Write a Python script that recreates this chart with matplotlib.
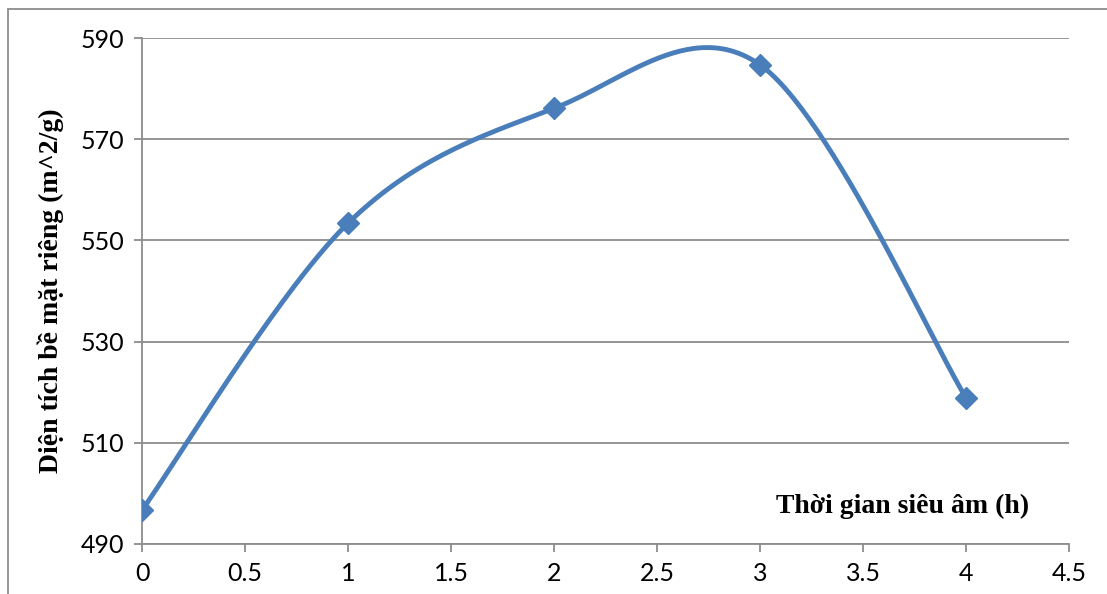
import numpy as np
import matplotlib.pyplot as plt
from matplotlib.patches import Rectangle

hours = [0, 1, 2, 3, 4]
surface_area = [496.7, 553.4, 576.1, 584.7, 518.9]

x_ticks = [0, 0.5, 1, 1.5, 2, 2.5, 3, 3.5, 4, 4.5]
x_labels = ['0', '0.5', '1', '1.5', '2', '2.5', '3', '3.5', '4', '4.5']
y_ticks = [490, 510, 530, 550, 570, 590]


def excel_smooth(xs, ys, n=60):
    # Excel-style smoothed line: cubic Bezier, control points at 1/6 of the neighbour chord
    pts = np.column_stack([xs, ys]).astype(float)
    out = []
    for i in range(len(pts) - 1):
        p0 = pts[i - 1] if i > 0 else pts[i]
        p1 = pts[i]
        p2 = pts[i + 1]
        p3 = pts[i + 2] if i + 2 < len(pts) else pts[i + 1]
        c1 = p1 + (p2 - p0) / 6
        c2 = p2 - (p3 - p1) / 6
        t = np.linspace(0, 1, n)[:, None]
        seg = ((1 - t) ** 3) * p1 + 3 * ((1 - t) ** 2) * t * c1 + 3 * (1 - t) * t ** 2 * c2 + t ** 3 * p2
        out.append(seg if i == 0 else seg[1:])
    curve = np.vstack(out)
    return curve[:, 0], curve[:, 1]


fig = plt.figure(figsize=(11.07, 5.94), dpi=100)
ax = fig.add_axes([0.1283, 0.0842, 0.8374, 0.8518])

sx, sy = excel_smooth(hours, surface_area)
ax.plot(sx, sy, color='#4a7ebb', lw=3.5, solid_capstyle='round', zorder=3)
ax.plot(hours, surface_area, ls='none', marker='D', ms=11, color='#4a7ebb', zorder=4)

ax.set_xlim(0, 4.5)
ax.set_ylim(490, 590)
ax.set_xticks(x_ticks)
ax.set_xticklabels(x_labels)
ax.set_yticks(y_ticks)
ax.grid(axis='y', color='#8c8c8c', lw=1.3)
ax.set_axisbelow(True)

for s in ['top', 'right']:
    ax.spines[s].set_visible(False)
for s in ['left', 'bottom']:
    ax.spines[s].set_color('#8c8c8c')
    ax.spines[s].set_linewidth(1.3)

ax.tick_params(axis='both', direction='out', length=6, width=1.3, color='#8c8c8c',
               labelsize=18, pad=7)
for lab in ax.get_xticklabels() + ax.get_yticklabels():
    lab.set_fontfamily('Lato')

ax.set_ylabel('Diện tích bề mặt riêng (m^2/g)', fontfamily='Liberation Serif',
              fontweight='bold', fontsize=20, labelpad=12)
ax.text(3.69, 497.5, 'Thời gian siêu âm (h)',
        fontfamily='Liberation Serif', fontweight='bold', fontsize=20,
        ha='center', va='center')

# outer chart frame, cropped at right and bottom
fig.patches.append(Rectangle((8 / 1107, -0.1), 1.2, 1 - 9 / 594 + 0.1,
                             transform=fig.transFigure, fill=False,
                             edgecolor='#8c8c8c', lw=1.3))

fig.savefig('out.png', dpi=100)
